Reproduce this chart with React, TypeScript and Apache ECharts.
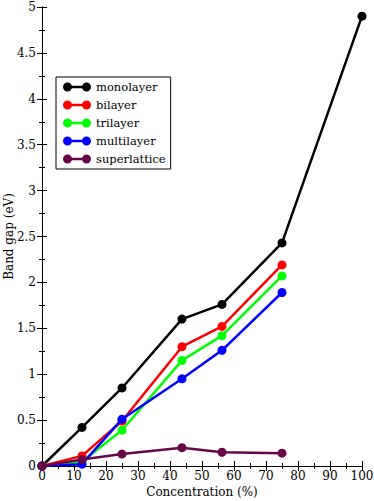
import React, { useEffect, useRef } from "react";
import * as echarts from "echarts";

const concentration = [0, 12.5, 25, 43.75, 56.25, 75, 100];
const monolayer = [0, 0.42, 0.85, 1.6, 1.76, 2.43, 4.9];
const bilayer = [0, 0.11, 0.49, 1.3, 1.52, 2.19];
const trilayer = [0, 0.05, 0.39, 1.15, 1.42, 2.07];
const multilayer = [0, 0.02, 0.51, 0.95, 1.26, 1.89];
const superlattice = [0, 0.07, 0.13, 0.2, 0.15, 0.14];

const seriesNames = ["monolayer", "bilayer", "trilayer", "multilayer", "superlattice"];
const seriesValues = [monolayer, bilayer, trilayer, multilayer, superlattice];
const seriesColors = ["#000000", "#ff0000", "#00ff00", "#0000ff", "#670748"];

const FONT = "DejaVu Serif";
const legendIcon =
  "path://M0,4.5a4.5,4.5 0 1,1 9,0a4.5,4.5 0 1,1 -9,0Z M19,4.5a4.5,4.5 0 1,1 9,0a4.5,4.5 0 1,1 -9,0Z M8.5,3.25h11v2.5h-11Z";

export default function App() {
  const ref = useRef<HTMLDivElement>(null);
  useEffect(() => {
    if (!ref.current) return;
    const chart = echarts.init(ref.current, null, { renderer: "svg" });
    const axisLine = { show: true, lineStyle: { color: "#000", width: 1 } };
    const xCommon = {
      type: "value",
      min: 0,
      max: 100,
      interval: 10,
      axisLine,
      axisTick: { show: true, inside: true, length: 5, lineStyle: { color: "#000" } },
      minorTick: { show: true, splitNumber: 2, length: 3, lineStyle: { color: "#000" } },
      splitLine: { show: false },
    };
    const yCommon = {
      type: "value",
      min: 0,
      max: 5,
      interval: 0.5,
      axisLine,
      axisTick: { show: true, inside: true, length: 5, lineStyle: { color: "#000" } },
      minorTick: { show: true, splitNumber: 2, length: 3, lineStyle: { color: "#000" } },
      splitLine: { show: false },
    };
    const txt = { fontFamily: FONT, fontSize: 12, color: "#000" };
    chart.setOption({
      animation: false,
      backgroundColor: "#fff",
      textStyle: { fontFamily: FONT },
      grid: { left: 42, right: 12, top: 7, bottom: 35, containLabel: false, outerBoundsMode: "none" },
      legend: {
        orient: "vertical",
        left: 56,
        top: 77,
        padding: [4, 5, 4, 7],
        itemGap: 6,
        itemWidth: 28,
        itemHeight: 9,
        icon: legendIcon,
        itemStyle: { borderWidth: 0 },
        borderColor: "#000",
        borderWidth: 1,
        backgroundColor: "#fff",
        textStyle: { ...txt, fontSize: 11.5 },
        data: seriesNames,
      },
      xAxis: [
        {
          ...xCommon,
          position: "bottom",
          name: "Concentration (%)",
          nameLocation: "middle",
          nameGap: 20,
          nameMoveOverlap: false,
          nameTextStyle: txt,
          axisLabel: { margin: 4, ...txt },
        },
        {
          ...xCommon,
          position: "top",
          axisLabel: { show: false },
        },
      ],
      yAxis: [
        {
          ...yCommon,
          position: "left",
          name: "Band gap (eV)",
          nameLocation: "middle",
          nameGap: 27,
          nameMoveOverlap: false,
          nameTextStyle: txt,
          axisLabel: { margin: 6, ...txt },
        },
        {
          ...yCommon,
          position: "right",
          axisLabel: { show: false },
        },
      ],
      series: seriesNames.map((name, i) => ({
        name,
        type: "line",
        xAxisIndex: 0,
        yAxisIndex: 0,
        data: seriesValues[i].map((v, j) => [concentration[j], v]),
        symbol: "circle",
        symbolSize: 9,
        color: seriesColors[i],
        lineStyle: { width: 2.5, color: seriesColors[i] },
        itemStyle: { color: seriesColors[i] },
        z: 2 + i,
      })),
    });
    return () => chart.dispose();
  }, []);
  return (
    <div
      ref={ref}
      style={{ position: "fixed", left: 0, top: 0, width: 374, height: 501 }}
    />
  );
}
